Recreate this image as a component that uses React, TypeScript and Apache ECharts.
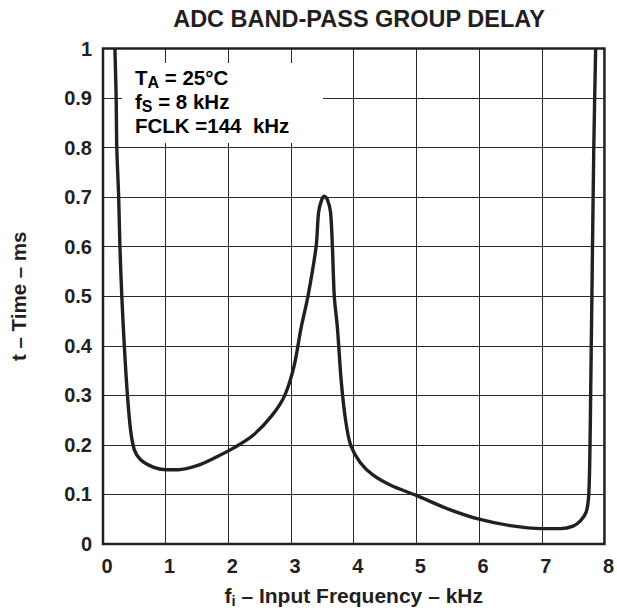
import React, { useEffect, useRef } from "react";
import * as echarts from "echarts";

const titleText = "ADC BAND-PASS GROUP DELAY";
const frequencyKHz = [
  0.19, 0.21, 0.22, 0.25, 0.27, 0.3, 0.34, 0.39, 0.44, 0.5, 0.6, 0.8, 1.0, 1.2, 1.5, 1.8, 2.1, 2.4,
  2.7, 2.9, 3.05, 3.16, 3.27, 3.4, 3.44, 3.49, 3.53, 3.58, 3.63, 3.66, 3.69, 3.74, 3.8, 3.87, 3.95,
  4.1, 4.3, 4.6, 5.0, 5.5, 6.0, 6.5, 7.0, 7.3, 7.5, 7.62, 7.71, 7.75, 7.77, 7.78, 7.8, 7.83, 7.86,
];
const delayMs = [
  1.0, 0.9, 0.8, 0.7, 0.6, 0.5, 0.4, 0.3, 0.23, 0.19, 0.17, 0.155, 0.15, 0.15, 0.158, 0.175, 0.195, 0.22,
  0.26, 0.3, 0.36, 0.436, 0.5, 0.6, 0.67, 0.695, 0.702, 0.695, 0.67, 0.6, 0.5, 0.436, 0.33, 0.25, 0.2,
  0.165, 0.14, 0.118, 0.098, 0.071, 0.05, 0.037, 0.031, 0.031, 0.036, 0.047, 0.065, 0.1, 0.2, 0.3, 0.5, 0.8, 1.0,
];
const xRange = [0, 8];
const yRange = [0, 1];

const INK = "#231f20";
const FONT = "'Liberation Sans', Arial, Helvetica, sans-serif";

export default function App() {
  const ref = useRef<HTMLDivElement>(null);
  useEffect(() => {
    if (!ref.current) return;
    const chart = echarts.init(ref.current, undefined, { renderer: "svg" });
    const data = frequencyKHz.map((f, i) => [f, delayMs[i]]);
    const rich = {
      b: { fontSize: 20.5, fontWeight: "bold", color: INK, fontFamily: FONT, lineHeight: 26, verticalAlign: "middle" },
      s: { fontSize: 16, fontWeight: "bold", color: INK, fontFamily: FONT, lineHeight: 15, verticalAlign: "bottom" },
    };
    const nameRich = {
      b: { fontSize: 21, fontWeight: "bold", color: INK, fontFamily: FONT, lineHeight: 26, verticalAlign: "middle" },
      s: { fontSize: 15, fontWeight: "bold", color: INK, fontFamily: FONT, lineHeight: 15, verticalAlign: "bottom" },
    };
    chart.setOption({
      animation: false,
      backgroundColor: "#ffffff",
      textStyle: { fontFamily: FONT },
      grid: {
        left: 101,
        right: 12,
        top: 48.5,
        bottom: 63,
        show: true,
        borderColor: INK,
        borderWidth: 2.5,
        backgroundColor: "transparent",
        z: 4,
      },
      xAxis: {
        type: "value",
        min: xRange[0],
        max: xRange[1],
        interval: 1,
        axisLine: { show: false },
        axisTick: { show: false },
        splitLine: { show: true, lineStyle: { color: "#2a2a2a", width: 1 } },
        axisLabel: {
          color: INK,
          fontSize: 20,
          fontWeight: "bold",
          fontFamily: FONT,
          margin: 12,
          padding: [0, 0, 0, 8],
        },
        name: "{b|f}{s|i}{b| – Input Frequency – kHz}",
        nameLocation: "middle",
        nameGap: 38,
        nameTextStyle: { rich: nameRich },
      },
      yAxis: {
        type: "value",
        min: yRange[0],
        max: yRange[1],
        interval: 0.1,
        axisLine: { show: false },
        axisTick: { show: false },
        splitLine: { show: true, lineStyle: { color: "#2a2a2a", width: 1 } },
        axisLabel: {
          color: INK,
          fontSize: 20,
          fontWeight: "bold",
          fontFamily: FONT,
          margin: 11,
          padding: [6, 0, 0, 0],
          formatter: (v: number) => String(Math.round(v * 10) / 10),
        },
        name: "t – Time – ms",
        nameLocation: "middle",
        nameGap: 74,
        nameTextStyle: { color: INK, fontSize: 20.5, fontWeight: "bold", fontFamily: FONT },
      },
      graphic: [
        {
          type: "text",
          x: 359,
          y: 19,
          z: 10,
          style: {
            text: titleText,
            fill: INK,
            font: `bold 23.5px ${FONT}`,
            textAlign: "center",
            textVerticalAlign: "middle",
          },
        },
        {
          type: "rect",
          z: 1,
          shape: { x: 122, y: 63, width: 201, height: 80 },
          style: { fill: "#ffffff" },
        },
        {
          type: "text",
          x: 135,
          y: 77,
          z: 10,
          style: { text: "{b|T}{s|A}{b| = 25°C}", rich, textVerticalAlign: "middle" },
        },
        {
          type: "text",
          x: 135,
          y: 101,
          z: 10,
          style: { text: "{b|f}{s|S}{b| = 8 kHz}", rich, textVerticalAlign: "middle" },
        },
        {
          type: "text",
          x: 135,
          y: 125,
          z: 10,
          style: { text: "{b|FCLK =144  kHz}", rich, textVerticalAlign: "middle" },
        },
      ],
      series: [
        {
          type: "line",
          data,
          smooth: 0.3,
          showSymbol: false,
          symbol: "none",
          clip: true,
          z: 3,
          lineStyle: { color: INK, width: 3.4 },
        },
      ],
    });
    return () => chart.dispose();
  }, []);
  return <div ref={ref} style={{ width: 617, height: 613, position: "absolute", left: 0, top: 0 }} />;
}
